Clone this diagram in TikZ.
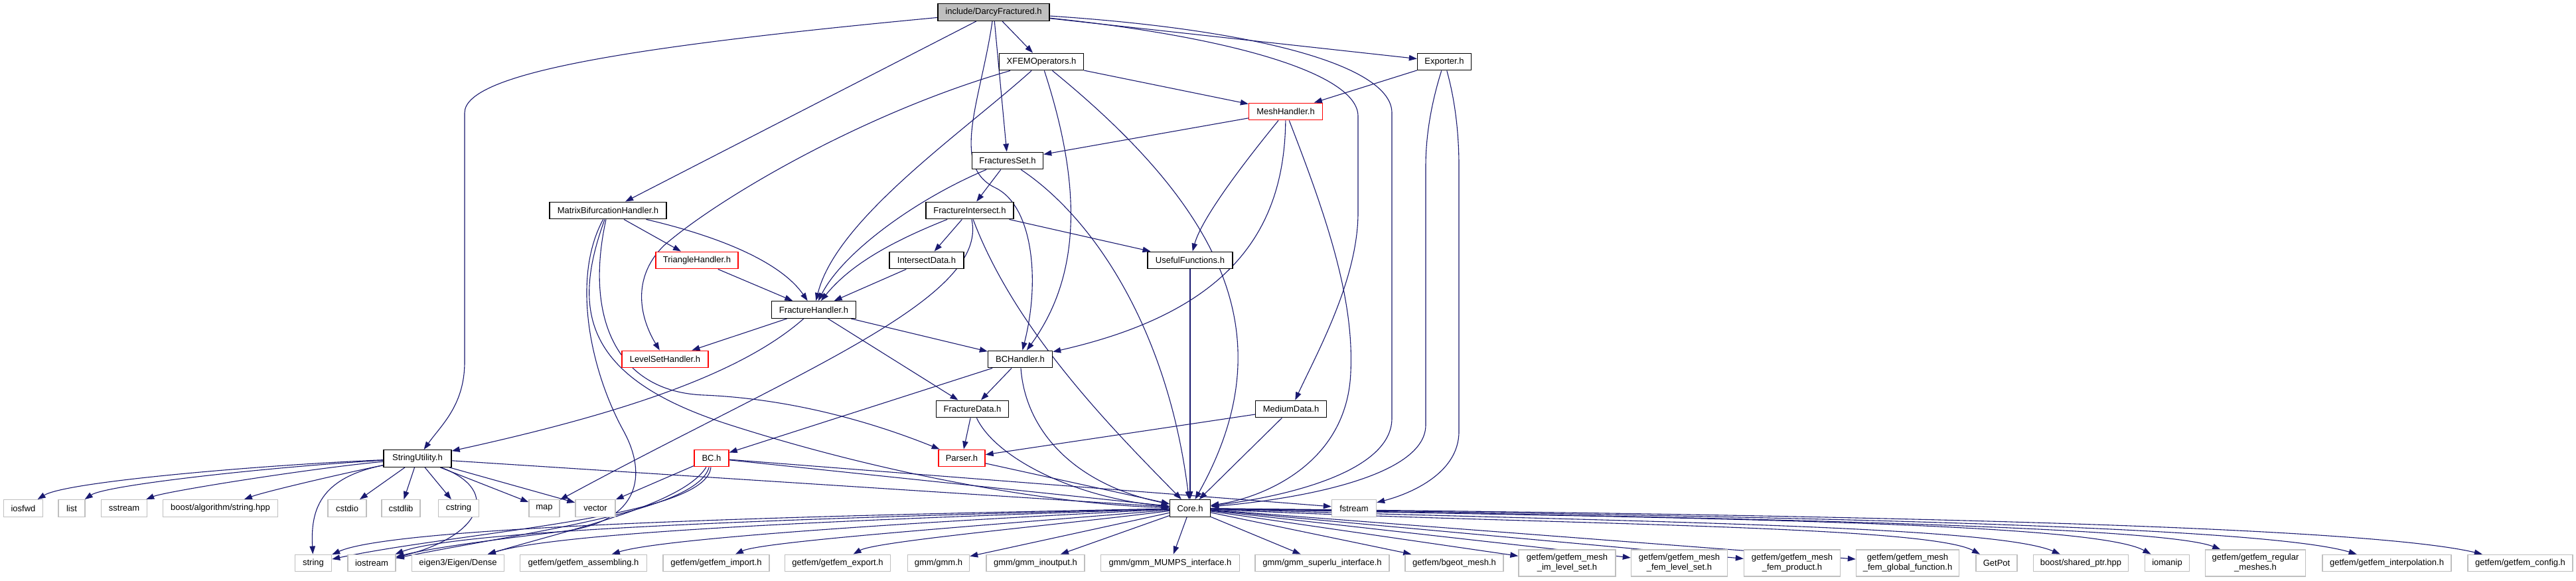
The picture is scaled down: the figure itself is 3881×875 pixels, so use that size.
\documentclass[tikz,border=0pt]{standalone}
\usepackage{fontspec}
\setmainfont{Liberation Sans}
\usetikzlibrary{arrows.meta}
\definecolor{edgecol}{HTML}{191970}
\definecolor{rootgray}{HTML}{BFBFBF}
\definecolor{extgray}{HTML}{BFBFBF}
\newcommand\dxfont{\fontsize{13}{15}\selectfont}
\pgfdeclarelayer{bgfill}
\pgfdeclarelayer{edges}
\pgfsetlayers{bgfill,edges,main}
\tikzset{
  mainbox/.style={draw=black, line width=1.4pt, fill=white, minimum height=25.5pt, inner sep=0pt, font=\dxfont, text=black},
  redbox/.style={mainbox, draw=red},
  ext/.style={draw=extgray, line width=1.4pt, fill=white, minimum height=25.5pt, inner sep=0pt, font=\dxfont, text=black},
  ext2/.style={ext, minimum height=40pt, align=center},
  dep/.style={draw=edgecol, line width=1.1pt, -{Triangle[length=12pt,width=8.5pt]}}
}
\begin{document}
\begin{tikzpicture}[x=1pt,y=-1pt]
\begin{pgfonlayer}{bgfill}
\fill[white] (0,0) rectangle (3881,875);
\end{pgfonlayer}
\useasboundingbox (0,0) rectangle (3881,875);
% main nodes
\node[mainbox, fill=rootgray, minimum width=168pt] (root) at (1497,18.5) {include/DarcyFractured.h};
\node[mainbox, minimum width=127pt] (xfem) at (1569,93) {XFEMOperators.h};
\node[mainbox, minimum width=81pt] (exporter) at (2176,93) {Exporter.h};
\node[redbox, minimum width=111pt] (mesh) at (1937,168) {MeshHandler.h};
\node[mainbox, minimum width=107pt] (fset) at (1518,242) {FracturesSet.h};
\node[mainbox, minimum width=132pt] (fint) at (1461,317) {FractureIntersect.h};
\node[mainbox, minimum width=176pt] (matrix) at (916,317) {MatrixBifurcationHandler.h};
\node[mainbox, minimum width=112pt] (idata) at (1396,392) {IntersectData.h};
\node[mainbox, minimum width=128pt] (useful) at (1793,392) {UsefulFunctions.h};
\node[redbox, minimum width=124pt] (tri) at (1050,392) {TriangleHandler.h};
\node[mainbox, minimum width=127pt] (fh) at (1226,466.5) {FractureHandler.h};
\node[redbox, minimum width=130pt] (lset) at (1002,541) {LevelSetHandler.h};
\node[mainbox, minimum width=97pt] (bch) at (1537,541) {BCHandler.h};
\node[mainbox, minimum width=109pt] (fdata) at (1465,616) {FractureData.h};
\node[mainbox, minimum width=107pt] (medium) at (1945,616) {MediumData.h};
\node[mainbox, minimum width=102pt] (su) at (629,690.5) {StringUtility.h};
\node[redbox, minimum width=52pt] (bc) at (1072,690) {BC.h};
\node[redbox, minimum width=70pt] (parser) at (1449,690) {Parser.h};
\node[mainbox, minimum width=61pt] (core) at (1793,765.5) {Core.h};
% external row 1
\node[ext, minimum width=59pt] (iosfwd) at (35,765.5) {iosfwd};
\node[ext, minimum width=40pt] (list) at (108,765.5) {list};
\node[ext, minimum width=69pt] (sstream) at (187,765.5) {sstream};
\node[ext, minimum width=173pt] (boost) at (332,765.5) {boost/algorithm/string.hpp};
\node[ext, minimum width=58pt] (cstdio) at (523,765.5) {cstdio};
\node[ext, minimum width=58pt] (cstdlib) at (604,765.5) {cstdlib};
\node[ext, minimum width=61pt] (cstring) at (691,765.5) {cstring};
\node[ext, minimum width=46pt] (map) at (820,765.5) {map};
\node[ext, minimum width=60pt] (vector) at (897,765.5) {vector};
\node[ext, minimum width=67pt] (fstream) at (2040,765.5) {fstream};
% external row 2
\node[ext, minimum width=55pt] (string) at (472,848) {string};
\node[ext, minimum width=72pt] (iostream) at (560,848) {iostream};
\node[ext, minimum width=139pt] (eigen) at (690,848) {eigen3/Eigen/Dense};
\node[ext, minimum width=191pt] (assembling) at (879,848) {getfem/getfem\_assembling.h};
\node[ext, minimum width=160pt] (import) at (1079,848) {getfem/getfem\_import.h};
\node[ext, minimum width=159pt] (export) at (1262,848) {getfem/getfem\_export.h};
\node[ext, minimum width=93pt] (gmm) at (1414,848) {gmm/gmm.h};
\node[ext, minimum width=148pt] (inoutput) at (1560,848) {gmm/gmm\_inoutput.h};
\node[ext, minimum width=209pt] (mumps) at (1763,848) {gmm/gmm\_MUMPS\_interface.h};
\node[ext, minimum width=202pt] (superlu) at (1992,848) {gmm/gmm\_superlu\_interface.h};
\node[ext, minimum width=148pt] (bgeot) at (2191,848) {getfem/bgeot\_mesh.h};
\node[ext2, minimum width=146pt] (imls) at (2361,848) {getfem/getfem\_mesh\\\_im\_level\_set.h};
\node[ext2, minimum width=145pt] (femls) at (2530,848) {getfem/getfem\_mesh\\\_fem\_level\_set.h};
\node[ext2, minimum width=145pt] (femprod) at (2700,848) {getfem/getfem\_mesh\\\_fem\_product.h};
\node[ext2, minimum width=155pt] (femglob) at (2874,848) {getfem/getfem\_mesh\\\_fem\_global\_function.h};
\node[ext, minimum width=62pt] (getpot) at (3008,848) {GetPot};
\node[ext, minimum width=143pt] (sharedptr) at (3135,848) {boost/shared\_ptr.hpp};
\node[ext, minimum width=67pt] (iomanip) at (3265,848) {iomanip};
\node[ext2, minimum width=151pt] (regular) at (3398,848) {getfem/getfem\_regular\\\_meshes.h};
\node[ext, minimum width=194pt] (interp) at (3596,848) {getfem/getfem\_interpolation.h};
\node[ext, minimum width=158pt] (config) at (3797,848) {getfem/getfem\_config.h};

\begin{pgfonlayer}{edges}
% root
\draw[dep] (root) .. controls (950,70) and (700,110) .. (700,170) -- (700,545) .. controls (700,610) and (665,640) .. (su);
\draw[dep] (root) -- (matrix);
\draw[dep] (root) -- (xfem);
\draw[dep] (root) -- (fset);
\draw[dep] (root) .. controls (1478,150) and (1430,250) .. (1500,283) .. controls (1555,310) and (1568,420) .. (bch);
\draw[dep] (root) -- (exporter);
\draw[dep] (root) .. controls (1850,55) and (2046,110) .. (2046,175) -- (2046,320) .. controls (2046,420) and (1985,530) .. (medium);
\draw[dep] (root) .. controls (1900,45) and (2097,100) .. (2097,170) -- (2097,630) .. controls (2097,715) and (1920,750) .. (core);
% exporter
\draw[dep] (exporter) -- (mesh);
\draw[dep] (exporter) .. controls (2158,150) and (2148,200) .. (2148,250) -- (2148,640) .. controls (2148,725) and (1920,755) .. (core);
\draw[dep] (exporter) .. controls (2192,150) and (2198,200) .. (2198,250) -- (2198,650) .. controls (2198,715) and (2120,745) .. (fstream);
% xfem
\draw[dep] (xfem) -- (mesh);
\draw[dep] (xfem) .. controls (1300,170) and (1080,300) .. (1000,370) .. controls (950,420) and (965,480) .. (lset);
\draw[dep] (xfem) .. controls (1450,200) and (1260,330) .. (fh);
\draw[dep] (xfem) .. controls (1620,250) and (1640,400) .. (bch);
\draw[dep] (xfem) .. controls (1860,330) and (1930,520) .. (core);
% mesh
\draw[dep] (mesh) -- (fset);
\draw[dep] (mesh) .. controls (1870,250) and (1810,330) .. (useful);
\draw[dep] (mesh) .. controls (1935,350) and (1850,470) .. (bch);
\draw[dep] (mesh) .. controls (2000,330) and (2040,450) .. (2035,560) .. controls (2030,700) and (1900,750) .. (core);
% fractures set
\draw[dep] (fset) -- (fint);
\draw[dep] (fset) .. controls (1380,300) and (1270,380) .. (fh);
\draw[dep] (fset) .. controls (1650,330) and (1760,500) .. (core);
% fracture intersect
\draw[dep] (fint) -- (idata);
\draw[dep] (fint) .. controls (1340,365) and (1280,400) .. (fh);
\draw[dep] (fint) -- (useful);
\draw[dep] (fint) .. controls (1490,450) and (1200,560) .. (map);
\draw[dep] (fint) .. controls (1530,500) and (1680,650) .. (core);
\draw[dep] (idata) -- (fh);
\draw[dep] (useful) -- (core);
% matrix bifurcation
\draw[dep] (matrix) -- (tri);
\draw[dep] (matrix) .. controls (1100,360) and (1180,400) .. (fh);
\draw[dep] (matrix) .. controls (860,420) and (890,560) .. (940,650) .. controls (975,715) and (965,785) .. (850,800) .. controls (750,812) and (650,825) .. (iostream);
\draw[dep] (matrix) .. controls (860,470) and (880,570) .. (1100,640) .. controls (1350,720) and (1600,760) .. (core);
\draw[dep] (matrix) .. controls (880,480) and (930,590) .. (1060,595) .. controls (1180,600) and (1300,630) .. (parser);
\draw[dep] (tri) -- (fh);
% fracture handler
\draw[dep] (fh) -- (lset);
\draw[dep] (fh) .. controls (1120,560) and (950,620) .. (su);
\draw[dep] (fh) -- (fdata);
\draw[dep] (fh) -- (bch);
% bc handler and below
\draw[dep] (bch) -- (fdata);
\draw[dep] (bch) -- (bc);
\draw[dep] (bch) .. controls (1545,650) and (1620,730) .. (core);
\draw[dep] (fdata) -- (parser);
\draw[dep] (fdata) .. controls (1500,690) and (1620,750) .. (core);
\draw[dep] (medium) -- (parser);
\draw[dep] (medium) -- (core);
\draw[dep] (parser) -- (core);
\draw[dep] (bc) -- (core);
\draw[dep] (bc) -- (fstream);
\draw[dep] (bc) -- (vector);
\draw[dep] (bc) .. controls (1030,760) and (850,800) .. (eigen);
\draw[dep] (bc) .. controls (1050,770) and (800,800) .. (iostream);
\draw[dep] (bc) .. controls (1065,780) and (700,800) .. (string);
% string utility
\draw[dep] (su) .. controls (400,700) and (100,725) .. (iosfwd);
\draw[dep] (su) .. controls (420,702) and (160,730) .. (list);
\draw[dep] (su) .. controls (470,705) and (250,740) .. (sstream);
\draw[dep] (su) .. controls (530,710) and (400,740) .. (boost);
\draw[dep] (su) -- (cstdio);
\draw[dep] (su) -- (cstdlib);
\draw[dep] (su) -- (cstring);
\draw[dep] (su) -- (map);
\draw[dep] (su) -- (vector);
\draw[dep] (su) .. controls (480,720) and (468,770) .. (string);
\draw[dep] (su) .. controls (760,740) and (720,810) .. (iostream);
\draw[dep] (su) -- (core);
% core
\draw[dep] (core) .. controls (1300,775) and (600,790) .. (string);
\draw[dep] (core) .. controls (1300,778) and (700,795) .. (iostream);
\draw[dep] (core) .. controls (1300,782) and (850,800) .. (eigen);
\draw[dep] (core) .. controls (1400,785) and (1000,810) .. (assembling);
\draw[dep] (core) .. controls (1500,790) and (1150,815) .. (import);
\draw[dep] (core) .. controls (1600,790) and (1320,815) .. (export);
\draw[dep] (core) -- (gmm);
\draw[dep] (core) -- (inoutput);
\draw[dep] (core) -- (mumps);
\draw[dep] (core) -- (superlu);
\draw[dep] (core) -- (bgeot);
\draw[dep] (core) -- (imls);
\draw[dep] (core) -- (femls);
\draw[dep] (core) -- (femprod);
\draw[dep] (core) -- (femglob);
\draw[dep] (core) .. controls (2300,790) and (2900,790) .. (getpot);
\draw[dep] (core) .. controls (2400,785) and (3000,790) .. (sharedptr);
\draw[dep] (core) .. controls (2500,780) and (3150,785) .. (iomanip);
\draw[dep] (core) .. controls (2500,778) and (3250,790) .. (regular);
\draw[dep] (core) .. controls (2600,776) and (3400,790) .. (interp);
\draw[dep] (core) .. controls (2700,774) and (3550,790) .. (config);
\end{pgfonlayer}
\end{tikzpicture}
\end{document}
